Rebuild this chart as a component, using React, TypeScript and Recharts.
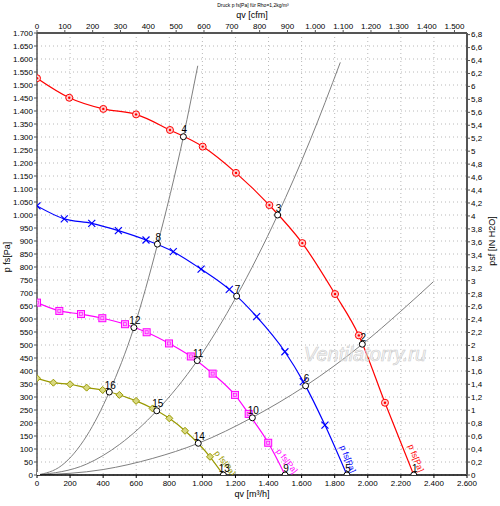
import React from 'react';
import { ComposedChart, Line, Scatter, XAxis, YAxis, CartesianGrid } from 'recharts';

const FONT = '"Liberation Sans", Arial, sans-serif';

// fan curves: qv [m³/h] and p fs [Pa]
const RED_Q = [0, 195, 401, 599, 804, 1002, 1203, 1405, 1604, 1802, 1946, 2104, 2278];
const RED_P = [1526, 1451, 1408, 1387, 1327, 1263, 1162, 1038, 892, 696, 537, 278, 0];
const BLUE_Q = [0, 165, 331, 492, 659, 824, 992, 1163, 1328, 1499, 1610, 1741, 1874];
const BLUE_P = [1035, 985, 968, 940, 904, 859, 792, 714, 609, 474, 359, 192, 0];
const MAG_Q = [0, 135, 266, 395, 532, 663, 798, 930, 1062, 1197, 1280, 1398, 1500];
const MAG_P = [663, 631, 619, 603, 580, 549, 506, 456, 390, 308, 235, 124, 0];
const OLV_Q = [0, 99, 200, 300, 397, 498, 599, 699, 800, 895, 1046, 1127];
const OLV_P = [372, 355, 349, 336, 327, 308, 285, 256, 218, 170, 70, 0];

// system curves
const SYS_A_Q = [0, 150, 300, 437, 586, 728, 885, 972];
const SYS_A_P = [0, 37, 150, 319, 567, 885, 1301, 1574];
const SYS_B_Q = [0, 300, 500, 724, 969, 1207, 1455, 1650, 1834];
const SYS_B_P = [0, 42, 118, 247, 440, 688, 1000, 1285, 1587];
const SYS_C_Q = [0, 400, 700, 975, 1304, 1624, 1967, 2200, 2396];
const SYS_C_P = [0, 21, 64, 122, 222, 343, 503, 630, 743];

// operating points
const OP_N = [1, 2, 3, 4, 5, 6, 7, 8, 9, 10, 11, 12, 13, 14, 15, 16];
const OP_Q = [2278, 1967, 1455, 885, 1874, 1624, 1207, 728, 1500, 1302, 969, 586, 1127, 975, 724, 437];
const OP_P = [0, 503, 1000, 1301, 0, 343, 688, 888, 0, 220, 440, 567, 0, 122, 247, 319];

// curve label anchors
const CURVE_LABEL_TEXT = 'p fs[Pa]';
const CURVE_LABEL_Q = [2292, 1880, 1512, 1137];
const CURVE_LABEL_P = [65, 62, 54, 46];
const CURVE_LABEL_ANGLE = [68, 68, 52, 53];
const CURVE_LABEL_COLOR = ['#ff0000', '#0000ff', '#ff00ff', '#999900'];

const BOTTOM_TICKS = [0, 200, 400, 600, 800, 1000, 1200, 1400, 1600, 1800, 2000, 2200, 2400, 2600];
const TOP_TICKS = [0, 100, 200, 300, 400, 500, 600, 700, 800, 900, 1000, 1100, 1200, 1300, 1400, 1500];
const LEFT_TICKS = Array.from({ length: 35 }, (_, i) => i * 50);
const LEFT_MINOR = Array.from({ length: 171 }, (_, i) => i * 10);
const RIGHT_TICKS = Array.from({ length: 35 }, (_, i) => Math.round(i * 2) / 10);
const RIGHT_MINOR = Array.from({ length: 69 }, (_, i) => Math.round(i) / 10);
const TOP_MINOR = Array.from({ length: 76 }, (_, i) => i * 20);

const PA_PER_INH2O = 249.089;
const RIGHT_MAX = 1700 / PA_PER_INH2O;
const TOP_MAX = 1545;

const zip = (q: number[], p: number[]) => q.map((v, i) => ({ q: v, p: p[i] }));
const ANCHOR = [{ q: 0, p: 0 }];

const fmtThousand = (n: number) => {
  const s = String(Math.round(n));
  if (s.length <= 3) return s;
  return s.slice(0, s.length - 3) + '.' + s.slice(s.length - 3);
};
const fmtRight = (n: number) => {
  if (Math.abs(n - Math.round(n)) < 1e-6) return String(Math.round(n));
  return n.toFixed(1).replace('.', ',');
};

const nothing = () => <g />;

const makeDot = (kind: string, color: string) => (props: any) => {
  const { cx, cy, index, payload } = props;
  if (cx == null || cy == null || !payload || payload.p <= 0) return <g key={`d-${kind}-${index}`} />;
  const k = `d-${kind}-${index}`;
  if (kind === 'circle') {
    return (
      <g key={k}>
        <circle cx={cx} cy={cy} r={3.5} fill="#ffd0d0" stroke={color} strokeWidth={1} />
        <circle cx={cx} cy={cy} r={1.2} fill={color} />
      </g>
    );
  }
  if (kind === 'x') {
    const s = 3.5;
    return (
      <g key={k} stroke={color} strokeWidth={1.2}>
        <line x1={cx - s} y1={cy - s} x2={cx + s} y2={cy + s} />
        <line x1={cx - s} y1={cy + s} x2={cx + s} y2={cy - s} />
      </g>
    );
  }
  if (kind === 'square') {
    return (
      <g key={k}>
        <rect x={cx - 3.5} y={cy - 3.5} width={7} height={7} fill="#ffb0ff" stroke={color} strokeWidth={1} />
        <rect x={cx - 1.5} y={cy - 1.5} width={3} height={3} fill="none" stroke={color} strokeWidth={0.6} />
      </g>
    );
  }
  const s = 3.5;
  return (
    <g key={k}>
      <path d={`M${cx},${cy - s}L${cx + s},${cy}L${cx},${cy + s}L${cx - s},${cy}Z`} fill="#d8d880" stroke={color} strokeWidth={1} />
    </g>
  );
};

const OpShape = (props: any) => {
  const { cx, cy, payload } = props;
  return (
    <g>
      <circle cx={cx} cy={cy} r={3} fill="#ffffff" stroke="#000000" strokeWidth={1} />
      <text x={cx + 1} y={cy - 3.5} fontSize={10} fontFamily={FONT} textAnchor="middle" fill="#000">
        {payload.n}
      </text>
    </g>
  );
};

const CurveLabelShape = (props: any) => {
  const { cx, cy, payload } = props;
  return (
    <text
      x={cx}
      y={cy}
      fontSize={8.5}
      fontFamily={FONT}
      fill={payload.color}
      textAnchor="middle"
      dominantBaseline="central"
      transform={`rotate(${payload.angle} ${cx} ${cy})`}
    >
      {CURVE_LABEL_TEXT}
    </text>
  );
};

const WatermarkShape = (props: any) => {
  const { cx, cy } = props;
  return (
    <text
      x={cx}
      y={cy}
      fontSize={20}
      fontStyle="italic"
      fontFamily={FONT}
      fill="#f2f2f2"
      fillOpacity={0.5}
      stroke="#cccccc"
      strokeWidth={0.6}
      textAnchor="middle"
      dominantBaseline="central"
    >
      Ventilatorry.ru
    </text>
  );
};

const opData = OP_N.map((n, i) => ({ q: OP_Q[i], p: OP_P[i], n }));
const curveLabelData = CURVE_LABEL_Q.map((q, i) => ({
  q,
  p: CURVE_LABEL_P[i],
  angle: CURVE_LABEL_ANGLE[i],
  color: CURVE_LABEL_COLOR[i],
}));
const watermarkData = [{ q: 1983, p: 466 }];

const tickStyle = { fontSize: 8, fontFamily: FONT, fill: '#000' };

export default function App() {
  return (
    <div style={{ position: 'absolute', left: 0, top: 0, width: 500, height: 506, background: '#fff' }}>
      <ComposedChart width={500} height={506} margin={{ top: 0, right: 0, bottom: 0, left: 0 }}>
        <CartesianGrid xAxisId="bottom" yAxisId="left" stroke="#b8b8b8" strokeDasharray="1 3" />
        <XAxis
          xAxisId="bottom"
          dataKey="q"
          type="number"
          orientation="bottom"
          domain={[0, 2600]}
          ticks={BOTTOM_TICKS}
          tickFormatter={fmtThousand}
          height={31}
          tickSize={3}
          tickMargin={2}
          tick={tickStyle}
          stroke="#000"
          axisLine={{ stroke: '#000', strokeWidth: 1.5 }}
          interval={0}
          allowDataOverflow
        />
        <XAxis
          xAxisId="top"
          dataKey="q"
          type="number"
          orientation="top"
          domain={[0, TOP_MAX]}
          ticks={TOP_TICKS}
          tickFormatter={fmtThousand}
          height={33}
          tickSize={3}
          tickMargin={1}
          tick={tickStyle}
          axisLine={{ stroke: '#555', strokeWidth: 2 }}
          tickLine={{ stroke: '#555' }}
          interval={0}
          allowDataOverflow
        />
        <XAxis
          xAxisId="topMinor"
          dataKey="q"
          type="number"
          orientation="top"
          domain={[0, TOP_MAX]}
          ticks={TOP_MINOR}
          height={0}
          tickSize={2}
          tick={nothing}
          axisLine={false}
          tickLine={{ stroke: '#777' }}
          interval={0}
          allowDataOverflow
        />
        <YAxis
          yAxisId="left"
          dataKey="p"
          type="number"
          orientation="left"
          domain={[0, 1700]}
          ticks={LEFT_TICKS}
          tickFormatter={fmtThousand}
          width={37}
          tickSize={3}
          tickMargin={1}
          tick={tickStyle}
          axisLine={{ stroke: '#555', strokeWidth: 1.5 }}
          tickLine={{ stroke: '#555' }}
          interval={0}
          allowDataOverflow
        />
        <YAxis
          yAxisId="leftMinor"
          dataKey="p"
          type="number"
          orientation="left"
          domain={[0, 1700]}
          ticks={LEFT_MINOR}
          width={0}
          tickSize={2}
          tick={nothing}
          axisLine={false}
          tickLine={{ stroke: '#888' }}
          interval={0}
          allowDataOverflow
        />
        <YAxis
          yAxisId="right"
          dataKey="p"
          type="number"
          orientation="right"
          domain={[0, RIGHT_MAX]}
          ticks={RIGHT_TICKS}
          tickFormatter={fmtRight}
          width={33}
          tickSize={3}
          tickMargin={1}
          tick={tickStyle}
          axisLine={{ stroke: '#555', strokeWidth: 2 }}
          tickLine={{ stroke: '#555' }}
          interval={0}
          allowDataOverflow
        />
        <YAxis
          yAxisId="rightMinor"
          dataKey="p"
          type="number"
          orientation="right"
          domain={[0, RIGHT_MAX]}
          ticks={RIGHT_MINOR}
          width={0}
          tickSize={2}
          tick={nothing}
          axisLine={false}
          tickLine={{ stroke: '#888' }}
          interval={0}
          allowDataOverflow
        />

        {/* invisible anchors so the secondary axes are drawn */}
        <Line xAxisId="top" yAxisId="right" data={ANCHOR} dataKey="p" stroke="none" dot={false} legendType="none" isAnimationActive={false} />
        <Line xAxisId="topMinor" yAxisId="rightMinor" data={ANCHOR} dataKey="p" stroke="none" dot={false} legendType="none" isAnimationActive={false} />
        <Line xAxisId="bottom" yAxisId="leftMinor" data={ANCHOR} dataKey="p" stroke="none" dot={false} legendType="none" isAnimationActive={false} />

        <Scatter xAxisId="bottom" yAxisId="left" data={watermarkData} dataKey="p" shape={WatermarkShape} isAnimationActive={false} />

        <Line xAxisId="bottom" yAxisId="left" data={zip(SYS_A_Q, SYS_A_P)} dataKey="p" type="monotone" stroke="#808080" strokeWidth={1} dot={false} isAnimationActive={false} />
        <Line xAxisId="bottom" yAxisId="left" data={zip(SYS_B_Q, SYS_B_P)} dataKey="p" type="monotone" stroke="#808080" strokeWidth={1} dot={false} isAnimationActive={false} />
        <Line xAxisId="bottom" yAxisId="left" data={zip(SYS_C_Q, SYS_C_P)} dataKey="p" type="monotone" stroke="#808080" strokeWidth={1} dot={false} isAnimationActive={false} />

        <Line xAxisId="bottom" yAxisId="left" data={zip(RED_Q, RED_P)} dataKey="p" type="monotone" stroke="#ff0000" strokeWidth={1.2} dot={makeDot('circle', '#ff0000')} isAnimationActive={false} />
        <Line xAxisId="bottom" yAxisId="left" data={zip(BLUE_Q, BLUE_P)} dataKey="p" type="monotone" stroke="#0000ff" strokeWidth={1.2} dot={makeDot('x', '#0000ff')} isAnimationActive={false} />
        <Line xAxisId="bottom" yAxisId="left" data={zip(MAG_Q, MAG_P)} dataKey="p" type="monotone" stroke="#ff00ff" strokeWidth={1.2} dot={makeDot('square', '#ff00ff')} isAnimationActive={false} />
        <Line xAxisId="bottom" yAxisId="left" data={zip(OLV_Q, OLV_P)} dataKey="p" type="monotone" stroke="#999900" strokeWidth={1.2} dot={makeDot('diamond', '#999900')} isAnimationActive={false} />

        <Scatter xAxisId="bottom" yAxisId="left" data={curveLabelData} dataKey="p" shape={CurveLabelShape} isAnimationActive={false} />
        <Scatter xAxisId="bottom" yAxisId="left" data={opData} dataKey="p" shape={OpShape} isAnimationActive={false} />
      </ComposedChart>
      <svg width={500} height={506} style={{ position: 'absolute', left: 0, top: 0, pointerEvents: 'none' }}>
        <text x={253} y={7} fontSize={5} fontFamily={FONT} textAnchor="middle" fill="#000">
          Druck p fs[Pa] für Rho=1,2kg/m³
        </text>
        <text x={252} y={18} fontSize={9} fontFamily={FONT} textAnchor="middle" fill="#000">
          qv [cfm]
        </text>
        <text x={252} y={497} fontSize={9} fontFamily={FONT} textAnchor="middle" fill="#000">
          qv [m³/h]
        </text>
        <text x={10} y={257} fontSize={9} fontFamily={FONT} textAnchor="middle" fill="#000" transform="rotate(-90 10 257)">
          p fs[Pa]
        </text>
        <text x={495} y={241} fontSize={9} fontFamily={FONT} textAnchor="middle" fill="#000" transform="rotate(-90 495 241)">
          psf [IN H2O]
        </text>
      </svg>
    </div>
  );
}
